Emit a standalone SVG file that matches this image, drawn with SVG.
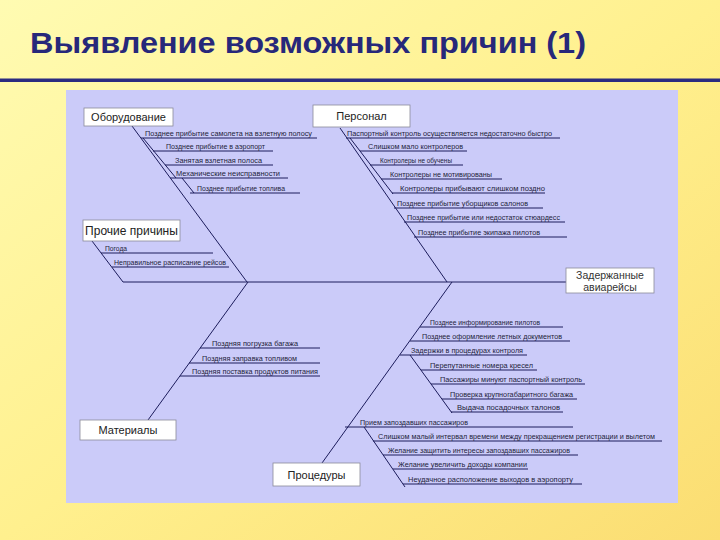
<svg xmlns="http://www.w3.org/2000/svg" width="720" height="540" viewBox="0 0 720 540">
<defs>
<linearGradient id="bg" x1="0" y1="0" x2="1" y2="1">
<stop offset="0" stop-color="#FFFBB2"/>
<stop offset="0.5" stop-color="#FFF08E"/>
<stop offset="1" stop-color="#FBDD72"/>
</linearGradient>
<style>
.title{font-family:"Liberation Sans",Arial,sans-serif;font-weight:bold;font-size:29px;fill:#27287A}
.box{fill:#FFFFFF;stroke:#8A8A9A;stroke-width:0.8}
.bt{font-family:"Liberation Sans",Arial,sans-serif;font-size:11px;fill:#222;text-anchor:middle}
.st{font-family:"Liberation Sans",Arial,sans-serif;font-size:7px;fill:#1E1E3A}
.ln line{stroke:#1C1C5C;stroke-width:1}
</style>
</defs>
<rect x="0" y="0" width="720" height="540" fill="url(#bg)"/>
<text class="title" x="30" y="53" textLength="556" lengthAdjust="spacingAndGlyphs">Выявление возможных причин (1)</text>
<rect x="0" y="78.5" width="720" height="3.5" fill="#2B2B80"/>
<rect x="66" y="90" width="612" height="413" fill="#CBCBF9"/>

<g id="connectors" class="ln">
<line x1="123" y1="282" x2="566" y2="282"/>
<!-- Оборудование -->
<line x1="132" y1="126" x2="247" y2="282"/>
<line x1="141" y1="138" x2="317" y2="138"/>
<line x1="143" y1="138" x2="176" y2="178"/>
<line x1="153" y1="151" x2="273" y2="151"/>
<line x1="165" y1="165" x2="273" y2="165"/>
<line x1="170" y1="178" x2="288" y2="178"/>
<line x1="182" y1="178" x2="194" y2="193"/>
<line x1="190" y1="193" x2="300" y2="193"/>
<!-- Персонал -->
<line x1="340" y1="128" x2="447" y2="282"/>
<line x1="346" y1="138" x2="560" y2="138"/>
<line x1="350" y1="138" x2="393" y2="194"/>
<line x1="360" y1="151" x2="467" y2="151"/>
<line x1="370" y1="165" x2="463" y2="165"/>
<line x1="381" y1="179" x2="502" y2="179"/>
<line x1="392" y1="193" x2="545" y2="193"/>
<line x1="394" y1="208" x2="543" y2="208"/>
<line x1="404" y1="222" x2="565" y2="222"/>
<line x1="414" y1="237" x2="567" y2="237"/>
<!-- Прочие причины -->
<line x1="92" y1="241" x2="123" y2="282"/>
<line x1="101" y1="253" x2="213" y2="253"/>
<line x1="112" y1="267" x2="229" y2="267"/>
<!-- Материалы -->
<line x1="148" y1="420" x2="248" y2="282"/>
<line x1="200" y1="348" x2="320" y2="348"/>
<line x1="189" y1="363" x2="320" y2="363"/>
<line x1="180" y1="376" x2="320" y2="376"/>
<!-- Процедуры -->
<line x1="322" y1="463" x2="452" y2="282"/>
<line x1="420" y1="327" x2="563" y2="327"/>
<line x1="410" y1="341" x2="570" y2="341"/>
<line x1="400" y1="355" x2="527" y2="355"/>
<line x1="410" y1="355" x2="452" y2="413"/>
<line x1="421" y1="370" x2="537" y2="370"/>
<line x1="431" y1="384" x2="585" y2="384"/>
<line x1="442" y1="399" x2="577" y2="399"/>
<line x1="451" y1="412" x2="563" y2="412"/>
<line x1="345" y1="427" x2="573" y2="427"/>
<line x1="364" y1="427" x2="405" y2="487"/>
<line x1="373" y1="441" x2="662" y2="441"/>
<line x1="383" y1="455" x2="578" y2="455"/>
<line x1="393" y1="469" x2="528" y2="469"/>
<line x1="403" y1="484" x2="582" y2="484"/>
</g>

<g id="node-equipment">
<rect class="box" x="84" y="108" width="89" height="18"/>
<text class="bt" x="128.5" y="121">Оборудование</text>
<text class="st" x="145" y="135.5" textLength="167" lengthAdjust="spacingAndGlyphs">Позднее прибытие самолета на взлетную полосу</text>
<text class="st" x="166" y="148.5" textLength="99" lengthAdjust="spacingAndGlyphs">Позднее прибытие в аэропорт</text>
<text class="st" x="175" y="162.5" textLength="87" lengthAdjust="spacingAndGlyphs">Занятая взлетная полоса</text>
<text class="st" x="176" y="175.5" textLength="104" lengthAdjust="spacingAndGlyphs">Механические неисправности</text>
<text class="st" x="197" y="190.5" textLength="88" lengthAdjust="spacingAndGlyphs">Позднее прибытие топлива</text>
</g>

<g id="node-personnel">
<rect class="box" x="313" y="105" width="97" height="22"/>
<text class="bt" x="361.5" y="120">Персонал</text>
<text class="st" x="347" y="135.5" textLength="205" lengthAdjust="spacingAndGlyphs">Паспортный контроль осуществляется недостаточно быстро</text>
<text class="st" x="368" y="148.5" textLength="95" lengthAdjust="spacingAndGlyphs">Слишком мало контролеров</text>
<text class="st" x="380" y="162.5" textLength="72" lengthAdjust="spacingAndGlyphs">Контролеры не обучены</text>
<text class="st" x="390" y="176.5" textLength="102" lengthAdjust="spacingAndGlyphs">Контролеры не мотивированы</text>
<text class="st" x="400" y="190.5" textLength="145" lengthAdjust="spacingAndGlyphs">Контролеры прибывают слишком поздно</text>
<text class="st" x="397" y="205.5" textLength="131" lengthAdjust="spacingAndGlyphs">Позднее прибытие уборщиков салонов</text>
<text class="st" x="407" y="219.5" textLength="153" lengthAdjust="spacingAndGlyphs">Позднее прибытие или недостаток стюардесс</text>
<text class="st" x="418" y="234.5" textLength="122" lengthAdjust="spacingAndGlyphs">Позднее прибытие экипажа пилотов</text>
</g>

<g id="node-other">
<rect class="box" x="83" y="220" width="97" height="21"/>
<text class="bt" x="131.5" y="235" style="font-size:12px">Прочие причины</text>
<text class="st" x="105" y="250.5" textLength="22" lengthAdjust="spacingAndGlyphs">Погода</text>
<text class="st" x="114" y="264.5" textLength="112" lengthAdjust="spacingAndGlyphs">Неправильное расписание рейсов</text>
</g>

<g id="node-effect">
<rect class="box" x="566" y="268" width="88" height="25"/>
<text class="bt" x="610" y="279" style="font-size:10.5px;fill:#333">Задержанные</text>
<text class="bt" x="610" y="291" style="font-size:10.5px;fill:#333">авиарейсы</text>
</g>

<g id="node-materials">
<rect class="box" x="80" y="420" width="96" height="20"/>
<text class="bt" x="128" y="434">Материалы</text>
<text class="st" x="212" y="345.5" textLength="86" lengthAdjust="spacingAndGlyphs">Поздняя погрузка багажа</text>
<text class="st" x="202" y="360.5" textLength="95" lengthAdjust="spacingAndGlyphs">Поздняя заправка топливом</text>
<text class="st" x="192" y="373.5" textLength="126" lengthAdjust="spacingAndGlyphs">Поздняя поставка продуктов питания</text>
</g>

<g id="node-procedures">
<rect class="box" x="273" y="463" width="87" height="23"/>
<text class="bt" x="316.5" y="478.5">Процедуры</text>
<text class="st" x="430" y="324.5" textLength="110" lengthAdjust="spacingAndGlyphs">Позднее информирование пилотов</text>
<text class="st" x="422" y="338.5" textLength="140" lengthAdjust="spacingAndGlyphs">Позднее оформление летных документов</text>
<text class="st" x="411" y="352.5" textLength="112" lengthAdjust="spacingAndGlyphs">Задержки в процедурах контроля</text>
<text class="st" x="430" y="367.5" textLength="103" lengthAdjust="spacingAndGlyphs">Перепутанные номера кресел</text>
<text class="st" x="440" y="381.5" textLength="142" lengthAdjust="spacingAndGlyphs">Пассажиры минуют паспортный контроль</text>
<text class="st" x="450" y="396.5" textLength="123" lengthAdjust="spacingAndGlyphs">Проверка крупногабаритного багажа</text>
<text class="st" x="457" y="409.5" textLength="103" lengthAdjust="spacingAndGlyphs">Выдача посадочных талонов</text>
<text class="st" x="360" y="424.5" textLength="108" lengthAdjust="spacingAndGlyphs">Прием запоздавших пассажиров</text>
<text class="st" x="378" y="438.5" textLength="277" lengthAdjust="spacingAndGlyphs">Слишком малый интервал времени между прекращением регистрации и вылетом</text>
<text class="st" x="388" y="452.5" textLength="182" lengthAdjust="spacingAndGlyphs">Желание защитить интересы запоздавших пассажиров</text>
<text class="st" x="398" y="466.5" textLength="129" lengthAdjust="spacingAndGlyphs">Желание увеличить доходы компании</text>
<text class="st" x="408" y="481.5" textLength="165" lengthAdjust="spacingAndGlyphs">Неудачное расположение выходов в аэропорту</text>
</g>
</svg>
